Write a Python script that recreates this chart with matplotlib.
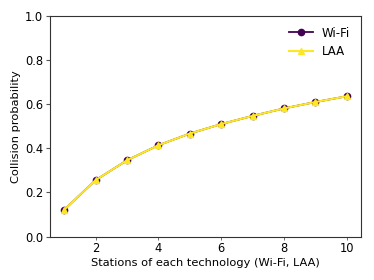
import numpy as np
import matplotlib.pyplot as plt

stations = [1, 2, 3, 4, 5, 6, 7, 8, 9, 10]
wifi_p = [0.122, 0.256, 0.346, 0.414, 0.467, 0.510, 0.547, 0.581, 0.610, 0.636]
laa_p = [0.122, 0.256, 0.346, 0.414, 0.467, 0.510, 0.547, 0.581, 0.610, 0.636]

fig, ax = plt.subplots(figsize=(3.74, 2.8), dpi=100)
ax.plot(stations, wifi_p, marker='o', markersize=4.5, color='#440154', linewidth=1.3, label='Wi-Fi')
ax.plot(stations, laa_p, marker='^', markersize=4.5, color='#fde725', linewidth=1.5, label='LAA')

ax.set_ylim(0, 1)
ax.set_xticks([2, 4, 6, 8, 10])
ax.tick_params(labelsize=8.3, color='#555555', pad=2)
ax.tick_params(axis='x', length=2, width=0.6)
ax.tick_params(axis='y', length=3, width=0.8)
for s in ax.spines.values():
    s.set_color('#333333')
ax.set_xlabel('Stations of each technology (Wi-Fi, LAA)', fontsize=8.2, labelpad=2)
ax.set_ylabel('Collision probability', fontsize=8.2, labelpad=3)
ax.legend(frameon=False, fontsize=8.5, loc='upper right')

fig.subplots_adjust(left=0.134, right=0.965, top=0.943, bottom=0.155)
fig.savefig('out.png')
